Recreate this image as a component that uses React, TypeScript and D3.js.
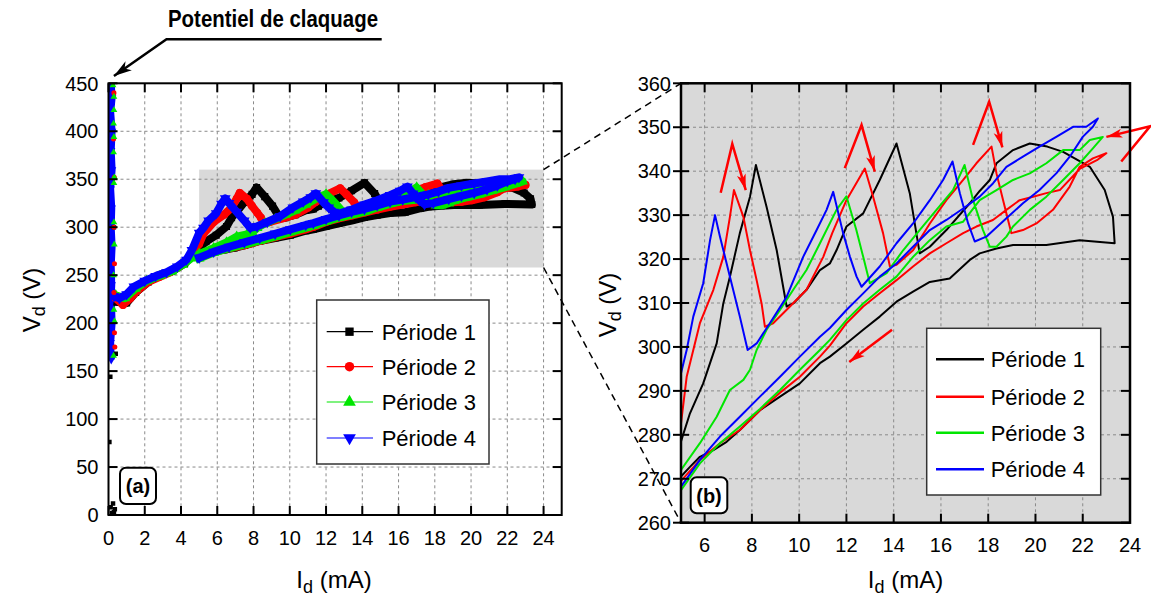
import React from 'react';
import * as d3 from 'd3';

const FONT = '"Liberation Sans", Arial, Helvetica, sans-serif';

const periods = ['Période 1', 'Période 2', 'Période 3', 'Période 4'];
const colors = ['#000000', '#ff0000', '#00e600', '#0000ff'];

const xTicksA = [0, 2, 4, 6, 8, 10, 12, 14, 16, 18, 20, 22, 24];
const yTicksA = [0, 50, 100, 150, 200, 250, 300, 350, 400, 450];
const xTicksB = [6, 8, 10, 12, 14, 16, 18, 20, 22, 24];
const yTicksB = [260, 270, 280, 290, 300, 310, 320, 330, 340, 350, 360];

type P = [number, number];

// One cycle per period: [Id (mA), Vd (V)] — rising branch with relaxation teeth, then return branch
const p1: P[] = [
  [5.0, 278.5], [5.38, 284.9], [5.94, 291.7], [6.51, 300.8], [6.79, 309.9], [7.07, 316], [7.49, 325.9],
  [7.92, 334.2], [8.17, 341.4], [8.62, 331.9], [9.05, 322], [9.47, 309.2], [9.75, 309.9], [10.31, 313],
  [10.88, 317.5], [11.3, 319], [11.58, 322], [12.0, 327.4], [12.71, 330.4], [13.41, 338], [14.12, 346.3],
  [14.68, 335], [15.1, 321.3], [15.53, 322.8], [16.23, 326.6], [17.22, 332.7], [17.64, 335.5], [18.07, 338],
  [18.35, 341.8], [19.05, 344.8], [19.76, 346.3], [20.5, 345.6], [21.17, 344.4], [22.3, 341], [22.93, 335.7],
  [23.28, 329.6], [23.35, 323.6],
  [21.87, 324.3], [20.46, 323.2], [19.05, 323.2], [18.35, 322.4], [17.64, 321.3], [17.22, 319.8], [16.37, 315.6],
  [15.53, 314.8], [14.82, 312.6], [14.12, 310.3], [13.41, 306.9], [12.71, 303.9], [12.0, 300.8], [11.3, 297.8],
  [10.88, 296.3], [10.03, 291.7], [9.19, 288.7], [8.34, 285.6], [7.49, 281.1], [6.93, 278.4], [6.37, 276.5],
  [5.8, 275], [5.38, 272.7], [5.0, 270.5],
];
const p2: P[] = [
  [5.0, 282.6], [5.24, 293.2], [5.8, 305.4], [6.37, 313], [6.79, 320.5], [7.07, 329.6], [7.24, 335.7],
  [7.64, 329.6], [7.92, 322], [8.2, 315.2], [8.41, 309.9], [8.55, 304.6], [8.9, 305.4], [9.61, 309.2],
  [10.31, 313], [11.02, 320.5], [11.4, 325.9], [12.0, 333.4], [12.78, 340.6], [13.13, 334.2], [13.55, 325.9],
  [13.84, 318.3], [14.12, 318.7], [14.82, 322], [15.53, 328.1], [16.23, 333.4], [16.94, 338], [17.5, 341.8],
  [18.14, 345.6], [18.35, 339.5], [18.63, 333.4], [18.98, 325.9], [19.47, 326.6], [20.04, 328.1],
  [20.74, 331.2], [21.45, 336.5], [21.87, 341], [22.43, 342.9], [23.0, 344.1],
  [22.6, 342.5], [21.87, 340.5], [21.03, 335.7], [20.46, 335], [19.9, 334.2], [19.33, 333.4], [18.77, 331.2],
  [18.2, 328.9], [17.5, 327.4], [16.94, 325.9], [16.23, 323.6], [15.53, 321.3], [14.82, 318.3], [14.12, 315.2],
  [13.41, 312.2], [12.71, 309.2], [12.0, 305.4], [11.3, 300.3], [10.88, 297.8], [10.03, 293.2], [9.19, 289.6],
  [8.34, 285.6], [7.49, 281.1], [6.65, 278.1], [5.8, 274.3], [5.0, 269.5],
];
const p3: P[] = [
  [5.0, 272], [5.8, 278.1], [6.51, 284.1], [7.07, 290.2], [7.64, 292.5], [7.92, 294.8], [8.2, 299.3],
  [8.62, 303.9], [9.19, 308.4], [9.75, 313], [10.31, 317.5], [10.88, 323.6], [11.58, 331.2], [12.0, 334.3],
  [12.42, 326.6], [12.71, 320.5], [12.99, 314.5], [13.7, 316.8], [14.4, 322], [15.1, 326.6], [15.81, 331.2],
  [16.51, 335.7], [17.0, 341.4], [17.36, 333.4], [17.78, 326.6], [18.07, 322.8], [18.35, 322.8], [18.77, 325.1],
  [19.05, 327.4], [19.76, 331.2], [20.46, 334.2], [21.17, 338], [21.87, 341.8], [22.43, 345.2], [22.85, 347.8],
  [22.3, 347.1], [21.87, 344.8], [21.17, 344.8], [20.46, 341.8], [19.76, 339.5], [19.05, 338], [18.35, 335.7],
  [17.64, 333.4], [16.94, 328.5], [16.23, 327.4], [15.53, 324.3], [14.82, 320.5], [14.12, 316], [13.41, 313],
  [12.71, 309.9], [12.0, 306.1], [11.3, 301.6], [10.88, 299.3], [10.03, 294.8], [9.19, 290.2], [8.34, 285.9],
  [7.49, 281.9], [6.65, 278.1], [5.8, 273.5], [5.0, 267.4],
];
const p4: P[] = [
  [5.0, 294], [5.24, 299.3], [5.52, 306.9], [5.94, 314.5], [6.23, 324.3], [6.44, 330], [6.65, 325.1],
  [7.07, 316], [7.49, 306.9], [7.82, 299.3], [8.2, 300.8], [8.76, 305.4], [9.47, 311.4], [10.17, 320.5],
  [10.74, 326.6], [11.16, 331.2], [11.44, 335.3], [11.86, 325.9], [12.15, 320.5], [12.43, 316], [12.64, 313.7],
  [13.41, 318.3], [14.12, 323.6], [14.82, 328.1], [15.53, 333.4], [16.09, 338], [16.49, 342.2], [16.8, 335],
  [17.15, 328.1], [17.43, 324], [17.92, 325.1], [18.77, 329.3], [19.47, 332.7], [20.17, 335.7], [20.88, 339.5],
  [21.45, 343.3], [22.0, 347.8], [22.43, 350.1], [22.64, 352],
  [22.15, 350.1], [21.59, 350.1], [20.88, 347.8], [20.17, 345.6], [19.47, 343.3], [18.77, 341], [18.2, 337.2],
  [17.64, 334.2], [16.94, 331.5], [16.23, 328.9], [15.53, 326.6], [14.82, 322.8], [14.12, 319], [13.41, 316],
  [12.71, 312.2], [12.0, 308.4], [11.3, 304.3], [10.88, 302.3], [10.03, 297.8], [9.19, 293.2], [8.34, 288.7],
  [7.49, 284.1], [6.65, 279.6], [5.8, 274.3], [5.0, 268.2],
];
const cycles = [p1, p2, p3, p4];

// Panel (a): start-up band after breakdown (before the zoomed window)
const rise1: P[] = [[0.5, 222], [1.0, 221], [1.5, 232], [2.2, 243], [2.8, 250], [3.5, 254], [4.2, 262], [4.7, 272]];
const rise2: P[] = [[0.4, 226], [0.8, 219], [1.2, 226], [1.6, 234], [2.2, 243], [2.8, 248], [3.4, 253], [4.0, 260], [4.5, 270]];
const rise3: P[] = [[0.4, 229], [0.9, 226], [1.5, 236], [2.1, 244], [2.8, 249], [3.5, 254], [4.1, 261], [4.6, 268]];
const rise4: P[] = [[0.3, 228], [0.6, 226], [1.0, 230], [1.4, 238], [2.0, 244], [2.6, 249], [3.2, 253], [3.8, 259], [4.3, 266], [4.6, 276]];
const rises = [rise1, rise2, rise3, rise4];

// Panel (a): breakdown column near Id = 0
const col4: P[] = [[0.15, 450], [0.2, 435], [0.12, 420], [0.2, 400], [0.15, 380], [0.2, 360], [0.12, 340], [0.18, 320],
  [0.15, 300], [0.2, 280], [0.15, 260], [0.18, 240], [0.15, 228], [0.2, 200], [0.12, 180], [0.15, 162]];
const col1: P[] = [[0.2, 2], [0.35, 6], [0.25, 12], [0.12, 8], [0.3, 3], [0.05, 76], [0.1, 144], [0.4, 168], [0.3, 300]];
const col2: P[] = [[0.3, 440], [0.28, 392], [0.32, 352], [0.3, 300], [0.33, 262], [0.3, 232], [0.33, 190], [0.35, 175]];
const col3: P[] = [[0.25, 448], [0.3, 436], [0.3, 422], [0.28, 408], [0.3, 394], [0.28, 378], [0.32, 352], [0.3, 346],
  [0.3, 305], [0.32, 282], [0.28, 250], [0.3, 214], [0.33, 202], [0.28, 166]];
const cols = [col1, col2, col3];

// Red annotation arrows in panel (b): [Id, Vd] polylines, last point = arrow tip
const redArrows: P[][] = [
  [[6.68, 335.1], [7.17, 346.2], [7.74, 335.7]],
  [[11.93, 340.7], [12.64, 350.5], [13.2, 339.9]],
  [[17.36, 346.0], [18.04, 355.8], [18.6, 345.4]],
  [[23.63, 342.2], [24.85, 350.2], [23.0, 347.8]],
  [[13.93, 303.9], [12.12, 296.6]],
];

const symTypes = [d3.symbolSquare, d3.symbolCircle, d3.symbolTriangle, d3.symbolTriangle];

function Marker({ i, x, y, size }: { i: number; x: number; y: number; size: number }) {
  const d = d3.symbol().type(symTypes[i]).size(size)() || '';
  const rot = i === 3 ? ' rotate(180)' : '';
  return <path d={d} transform={`translate(${x},${y})${rot}`} fill={colors[i]} />;
}

export default function App() {
  const xA = d3.scaleLinear().domain([0, 25]).range([108.5, 561.7]);
  const yA = d3.scaleLinear().domain([0, 450]).range([515, 83.3]);
  const xB = d3.scaleLinear().domain([5, 24]).range([681, 1130]);
  const yB = d3.scaleLinear().domain([260, 360]).range([522.7, 83.3]);

  const lineA = d3.line<P>().x(d => xA(d[0])).y(d => yA(d[1]));
  const lineB = d3.line<P>().x(d => xB(d[0])).y(d => yB(d[1]));

  const [a0, a1] = xA.range();
  const [ab, at] = yA.range();
  const [b0, b1] = xB.range();
  const [bb, bt] = yB.range();

  const tickLen = 9;
  const gridStyle = { stroke: '#8a8a8a', strokeWidth: 1, strokeDasharray: '3,3' };

  const legendYA = [331.7, 366.7, 402, 438];
  const legendYB = [359.3, 396.7, 432.7, 469.3];

  return (
    <svg width={1151} height={602} style={{ position: 'absolute', left: 0, top: 0, background: '#fff' }}
      fontFamily={FONT}>
      <defs>
        <clipPath id="clipA"><rect x={a0} y={at} width={a1 - a0} height={ab - at} /></clipPath>
        <clipPath id="clipB"><rect x={b0} y={bt} width={b1 - b0} height={bb - bt} /></clipPath>
        <marker id="redHead" markerUnits="userSpaceOnUse" markerWidth={18} markerHeight={12} refX={16} refY={6} orient="auto">
          <path d="M0,1.5 L16,6 L0,10.5 L4,6 Z" fill="#ff0000" />
        </marker>
        <marker id="blackHead" markerUnits="userSpaceOnUse" markerWidth={20} markerHeight={14} refX={18} refY={7} orient="auto">
          <path d="M0,1.5 L18,7 L0,12.5 L5,7 Z" fill="#000" />
        </marker>
      </defs>

      {/* ---------- Panel (a) ---------- */}
      <rect x={xA(5)} y={yA(360)} width={xA(24) - xA(5)} height={yA(258) - yA(360)} fill="#d9d9d9" />
      {xTicksA.filter(t => t > 0).map(t => (
        <line key={'gxa' + t} x1={xA(t)} x2={xA(t)} y1={at} y2={ab} {...gridStyle} />
      ))}
      {yTicksA.filter(t => t > 0 && t < 450).map(t => (
        <line key={'gya' + t} x1={a0} x2={a1} y1={yA(t)} y2={yA(t)} {...gridStyle} />
      ))}

      <g clipPath="url(#clipA)">
        <path d={lineA(col4) || ''} fill="none" stroke={colors[3]} strokeWidth={7} />
        {[0, 1, 2, 3].map(i => {
          const pts = [...rises[i], ...cycles[i]];
          return (
            <g key={'bandA' + i}>
              <path d={lineA(pts) || ''} fill="none" stroke={colors[i]} strokeWidth={8} strokeLinejoin="round" strokeLinecap="square" />
              {pts.map((p, k) => <Marker key={k} i={i} x={xA(p[0])} y={yA(p[1])} size={50} />)}
            </g>
          );
        })}
        {col4.map((p, k) => <Marker key={'c4' + k} i={3} x={xA(p[0])} y={yA(p[1])} size={30} />)}
        {cols.map((c, i) => c.map((p, k) => (
          <Marker key={'c' + i + '_' + k} i={i} x={xA(p[0])} y={yA(p[1])} size={20} />
        )))}
      </g>

      {/* frame A */}
      <rect x={a0} y={at} width={a1 - a0} height={ab - at} fill="none" stroke="#000" strokeWidth={2} />
      {xTicksA.map(t => (
        <g key={'txa' + t}>
          <line x1={xA(t)} x2={xA(t)} y1={ab} y2={ab - tickLen} stroke="#000" strokeWidth={2} />
          <line x1={xA(t)} x2={xA(t)} y1={at} y2={at + tickLen} stroke="#000" strokeWidth={2} />
          <text x={xA(t)} y={ab + 30} fontSize={20} textAnchor="middle">{t}</text>
        </g>
      ))}
      {yTicksA.map(t => (
        <g key={'tya' + t}>
          <line x1={a0} x2={a0 + tickLen} y1={yA(t)} y2={yA(t)} stroke="#000" strokeWidth={2} />
          <line x1={a1} x2={a1 - tickLen} y1={yA(t)} y2={yA(t)} stroke="#000" strokeWidth={2} />
          <text x={a0 - 10} y={yA(t)} dy="0.36em" fontSize={20} textAnchor="end">{t}</text>
        </g>
      ))}

      {/* legend A */}
      <rect x={316.7} y={300} width={172.3} height={164} fill="#fff" stroke="#333" strokeWidth={1.5} />
      {periods.map((p, i) => (
        <g key={'legA' + i}>
          <line x1={326.7} x2={373} y1={legendYA[i]} y2={legendYA[i]} stroke={colors[i]} strokeWidth={1.2} />
          <Marker i={i} x={349.5} y={legendYA[i]} size={70} />
          <text x={381.7} y={legendYA[i] + 8} fontSize={22}>{p}</text>
        </g>
      ))}

      {/* (a) label */}
      <rect x={120} y={467.7} width={36} height={36.3} rx={6} fill="#fff" stroke="#000" strokeWidth={2} />
      <text x={138} y={493} fontSize={20} fontWeight="bold" textAnchor="middle">(a)</text>

      {/* axis titles A */}
      <text transform={`translate(40,300) rotate(-90)`} fontSize={24} textAnchor="middle">
        <tspan>V</tspan><tspan fontSize={18} dy={5}>d</tspan><tspan dy={-5}> (V)</tspan>
      </text>
      <text x={334} y={588} fontSize={24} textAnchor="middle">
        <tspan>I</tspan><tspan fontSize={18} dy={5}>d</tspan><tspan dy={-5}> (mA)</tspan>
      </text>

      {/* breakdown annotation */}
      <text x={168} y={27} fontSize={23} fontWeight="bold" textLength={210} lengthAdjust="spacingAndGlyphs">Potentiel de claquage</text>
      <polyline points={`${xA(15.07)},${yA(495.9)} ${xA(3.2)},${yA(495.9)} ${xA(0.3)},${yA(457.6)}`}
        fill="none" stroke="#000" strokeWidth={2.5} markerEnd="url(#blackHead)" />

      {/* zoom connectors */}
      <line x1={xA(24)} y1={yA(360)} x2={b0} y2={bt} stroke="#000" strokeWidth={1.5} strokeDasharray="7,5" />
      <line x1={xA(24)} y1={yA(258)} x2={b0} y2={bb} stroke="#000" strokeWidth={1.5} strokeDasharray="7,5" />

      {/* ---------- Panel (b) ---------- */}
      <rect x={b0} y={bt} width={b1 - b0} height={bb - bt} fill="#d9d9d9" />
      {xTicksB.filter(t => t < 24).map(t => (
        <line key={'gxb' + t} x1={xB(t)} x2={xB(t)} y1={bt} y2={bb} {...gridStyle} />
      ))}
      {yTicksB.filter(t => t > 260 && t < 360).map(t => (
        <line key={'gyb' + t} x1={b0} x2={b1} y1={yB(t)} y2={yB(t)} {...gridStyle} />
      ))}
      <g clipPath="url(#clipB)">
        {cycles.map((c, i) => (
          <path key={'cb' + i} d={lineB(c) || ''} fill="none" stroke={colors[i]} strokeWidth={2} strokeLinejoin="round" />
        ))}
      </g>
      {redArrows.map((a, k) => (
        <polyline key={'ra' + k} points={a.map(p => `${xB(p[0])},${yB(p[1])}`).join(' ')}
          fill="none" stroke="#ff0000" strokeWidth={2.5} markerEnd="url(#redHead)" />
      ))}

      <rect x={b0} y={bt} width={b1 - b0} height={bb - bt} fill="none" stroke="#000" strokeWidth={2.5} />
      {xTicksB.map(t => (
        <g key={'txb' + t}>
          <line x1={xB(t)} x2={xB(t)} y1={bb} y2={bb - tickLen} stroke="#000" strokeWidth={2} />
          <line x1={xB(t)} x2={xB(t)} y1={bt} y2={bt + tickLen} stroke="#000" strokeWidth={2} />
          <text x={xB(t)} y={bb + 29} fontSize={20} textAnchor="middle">{t}</text>
        </g>
      ))}
      {yTicksB.map(t => (
        <g key={'tyb' + t}>
          <line x1={b0 - 8} x2={b0 + 8} y1={yB(t)} y2={yB(t)} stroke="#000" strokeWidth={2} />
          <line x1={b1} x2={b1 - tickLen} y1={yB(t)} y2={yB(t)} stroke="#000" strokeWidth={2} />
          <text x={b0 - 10} y={yB(t)} dy="0.36em" fontSize={20} textAnchor="end">{t}</text>
        </g>
      ))}

      {/* legend B */}
      <rect x={926.7} y={328.3} width={174} height={166.7} fill="#fff" stroke="#333" strokeWidth={1.5} />
      {periods.map((p, i) => (
        <g key={'legB' + i}>
          <line x1={936} x2={984} y1={legendYB[i]} y2={legendYB[i]} stroke={colors[i]} strokeWidth={2.5} />
          <text x={990.7} y={legendYB[i] + 8} fontSize={22}>{p}</text>
        </g>
      ))}

      {/* (b) label */}
      <rect x={690.7} y={477.3} width={36.6} height={36} rx={6} fill="#fff" stroke="#000" strokeWidth={2} />
      <text x={709} y={502.5} fontSize={20} fontWeight="bold" textAnchor="middle">(b)</text>

      {/* axis titles B */}
      <text transform={`translate(616,305) rotate(-90)`} fontSize={24} textAnchor="middle">
        <tspan>V</tspan><tspan fontSize={18} dy={5}>d</tspan><tspan dy={-5}> (V)</tspan>
      </text>
      <text x={905.5} y={588} fontSize={24} textAnchor="middle">
        <tspan>I</tspan><tspan fontSize={18} dy={5}>d</tspan><tspan dy={-5}> (mA)</tspan>
      </text>
    </svg>
  );
}
